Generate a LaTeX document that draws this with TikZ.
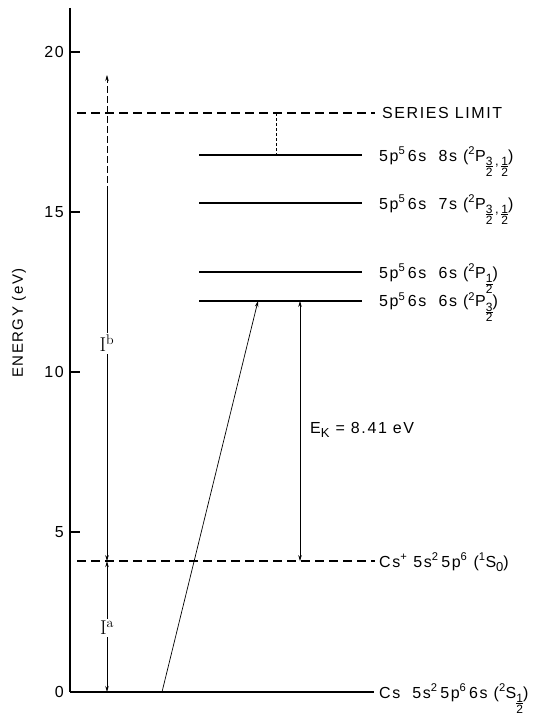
\documentclass[tikz,border=0pt]{standalone}
\usepackage{fontspec}
\usetikzlibrary{arrows.meta}
\newfontfamily\lblfont{Liberation Sans}[LetterSpace=10]
\tikzset{
  level/.style={line width=1.6pt},
  ionlevel/.style={line width=1.6pt,dash pattern=on 9pt off 5pt},
  axis/.style={line width=1.8pt},
  lab/.style={font=\lblfont\fontsize{16}{18}\selectfont,anchor=base west,
    inner sep=0pt},
  ticklab/.style={font=\lblfont\fontsize{16}{18}\selectfont,anchor=east,
    inner sep=0pt},
  ilab/.style={font=\fontsize{20}{22}\selectfont,fill=white,inner sep=2pt},
  arr/.style={line width=0.7pt},
  fine/.style={line width=0.6pt,dash pattern=on 7pt off 3pt}
}
% stacked half-integer subscripts, as lettered on the figure
\newcommand{\fr}[2]{\raisebox{-15pt}{\fontsize{12}{12}\selectfont
  \vbox{\hbox{#1}\kern0.6pt\hrule height0.6pt\kern0.6pt\hbox{#2}}}}
\newcommand{\dn}[1]{\raisebox{-4pt}{\fontsize{13}{13}\selectfont #1}}
\newcommand{\up}[1]{\textsuperscript{#1}}

\begin{document}
\begin{tikzpicture}[x=1pt,y=32pt,>={Stealth[length=6pt,width=3.5pt]}]
\useasboundingbox (0,-0.78125) rectangle (544,21.625);
% ---------------- axis ----------------
\coordinate (top) at (70,21.375);
\coordinate (orig) at (70,0);
\coordinate (gndend) at (374,0);
\draw[axis] (top) -- (orig);
\draw[level] (orig) -- (gndend);
\foreach \e in {5,10,15,20}{
  \draw[axis] (70,\e) -- (80,\e);
  \node[ticklab] (t\e) at (64,\e) {\e};
}
\node[ticklab] (t0) at (64,0) {0};
\node[font=\lblfont\fontsize{15}{17}\selectfont,rotate=90] (elab) at (19,11.53)
  {ENERGY (eV)};
% ---------------- levels ----------------
\coordinate (lim0) at (77,18.09);   \coordinate (lim1) at (375,18.09);
\coordinate (ion0) at (77,4.09);    \coordinate (ion1) at (375,4.09);
\coordinate (s8a) at (199,16.78);   \coordinate (s8b) at (362,16.78);
\coordinate (s7a) at (199,15.28);   \coordinate (s7b) at (362,15.28);
\coordinate (p1a) at (199,13.12);   \coordinate (p1b) at (362,13.12);
\coordinate (p3a) at (199,12.22);   \coordinate (p3b) at (362,12.22);
\draw[ionlevel] (lim0) -- (lim1);
\draw[ionlevel] (ion0) -- (ion1);
\draw[level] (s8a) -- (s8b);
\draw[level] (s7a) -- (s7b);
\draw[level] (p1a) -- (p1b);
\draw[level] (p3a) -- (p3b);
\node[lab,anchor=west] (limlab) at ([xshift=7pt]lim1) {SERIES LIMIT};
\node[lab] (s8lab) at ([xshift=17pt,yshift=-6pt]s8b)
  {5p\up{5}\,6s\ \ 8s (\up{2}P\fr32\,\dn{,}\,\fr12)};
\node[lab] (s7lab) at ([xshift=17pt,yshift=-6pt]s7b)
  {5p\up{5}\,6s\ \ 7s (\up{2}P\fr32\,\dn{,}\,\fr12)};
\node[lab] (p1lab) at ([xshift=17pt,yshift=-6pt]p1b)
  {5p\up{5}\,6s\ \ 6s (\up{2}P\fr12)};
\node[lab] (p3lab) at ([xshift=17pt,yshift=-6pt]p3b)
  {5p\up{5}\,6s\ \ 6s (\up{2}P\fr32)};
\node[lab] (ionlab) at ([xshift=4pt,yshift=-6pt]ion1)
  {Cs\up{+} 5s\up{2}\,5p\up{6} (\up{1}S\dn{0})};
\node[lab] (gndlab) at ([xshift=5pt,yshift=-6pt]gndend)
  {Cs\ \ 5s\up{2}\,5p\up{6}\,6s (\up{2}S\fr12)};
% ---------------- transitions ----------------
\coordinate (ia0) at (107,0);      \coordinate (ia1) at (107,4.09);
\coordinate (ib0) at (107,15.6);   \coordinate (ib1) at (107,19.28);
\coordinate (exc0) at (162,0);     \coordinate (exc1) at (258,12.22);
\coordinate (ek0) at (300,4.09);   \coordinate (ek1) at (300,12.22);
\coordinate (lk0) at (276,18.09);  \coordinate (lk1) at (276,16.78);
\draw[arr,<->] (ia0) -- (ia1);
\draw[arr,->] (ib0) -- (ia1);
\draw[arr,fine,->] (ib0) -- (ib1);
\node[ilab] (ialab) at (107,2.0) {I\up{a}};
\node[ilab] (iblab) at (107,10.9) {I\up{b}};
\draw[arr,->] (exc0) -- (exc1);
\draw[arr,<->] (ek0) -- (ek1);
\node[lab,anchor=west] (eklab) at (310,8.2) {E\dn{K} = 8.41 eV};
\draw[fine,dash pattern=on 3pt off 2pt] (lk0) -- (lk1);
\end{tikzpicture}
\end{document}
